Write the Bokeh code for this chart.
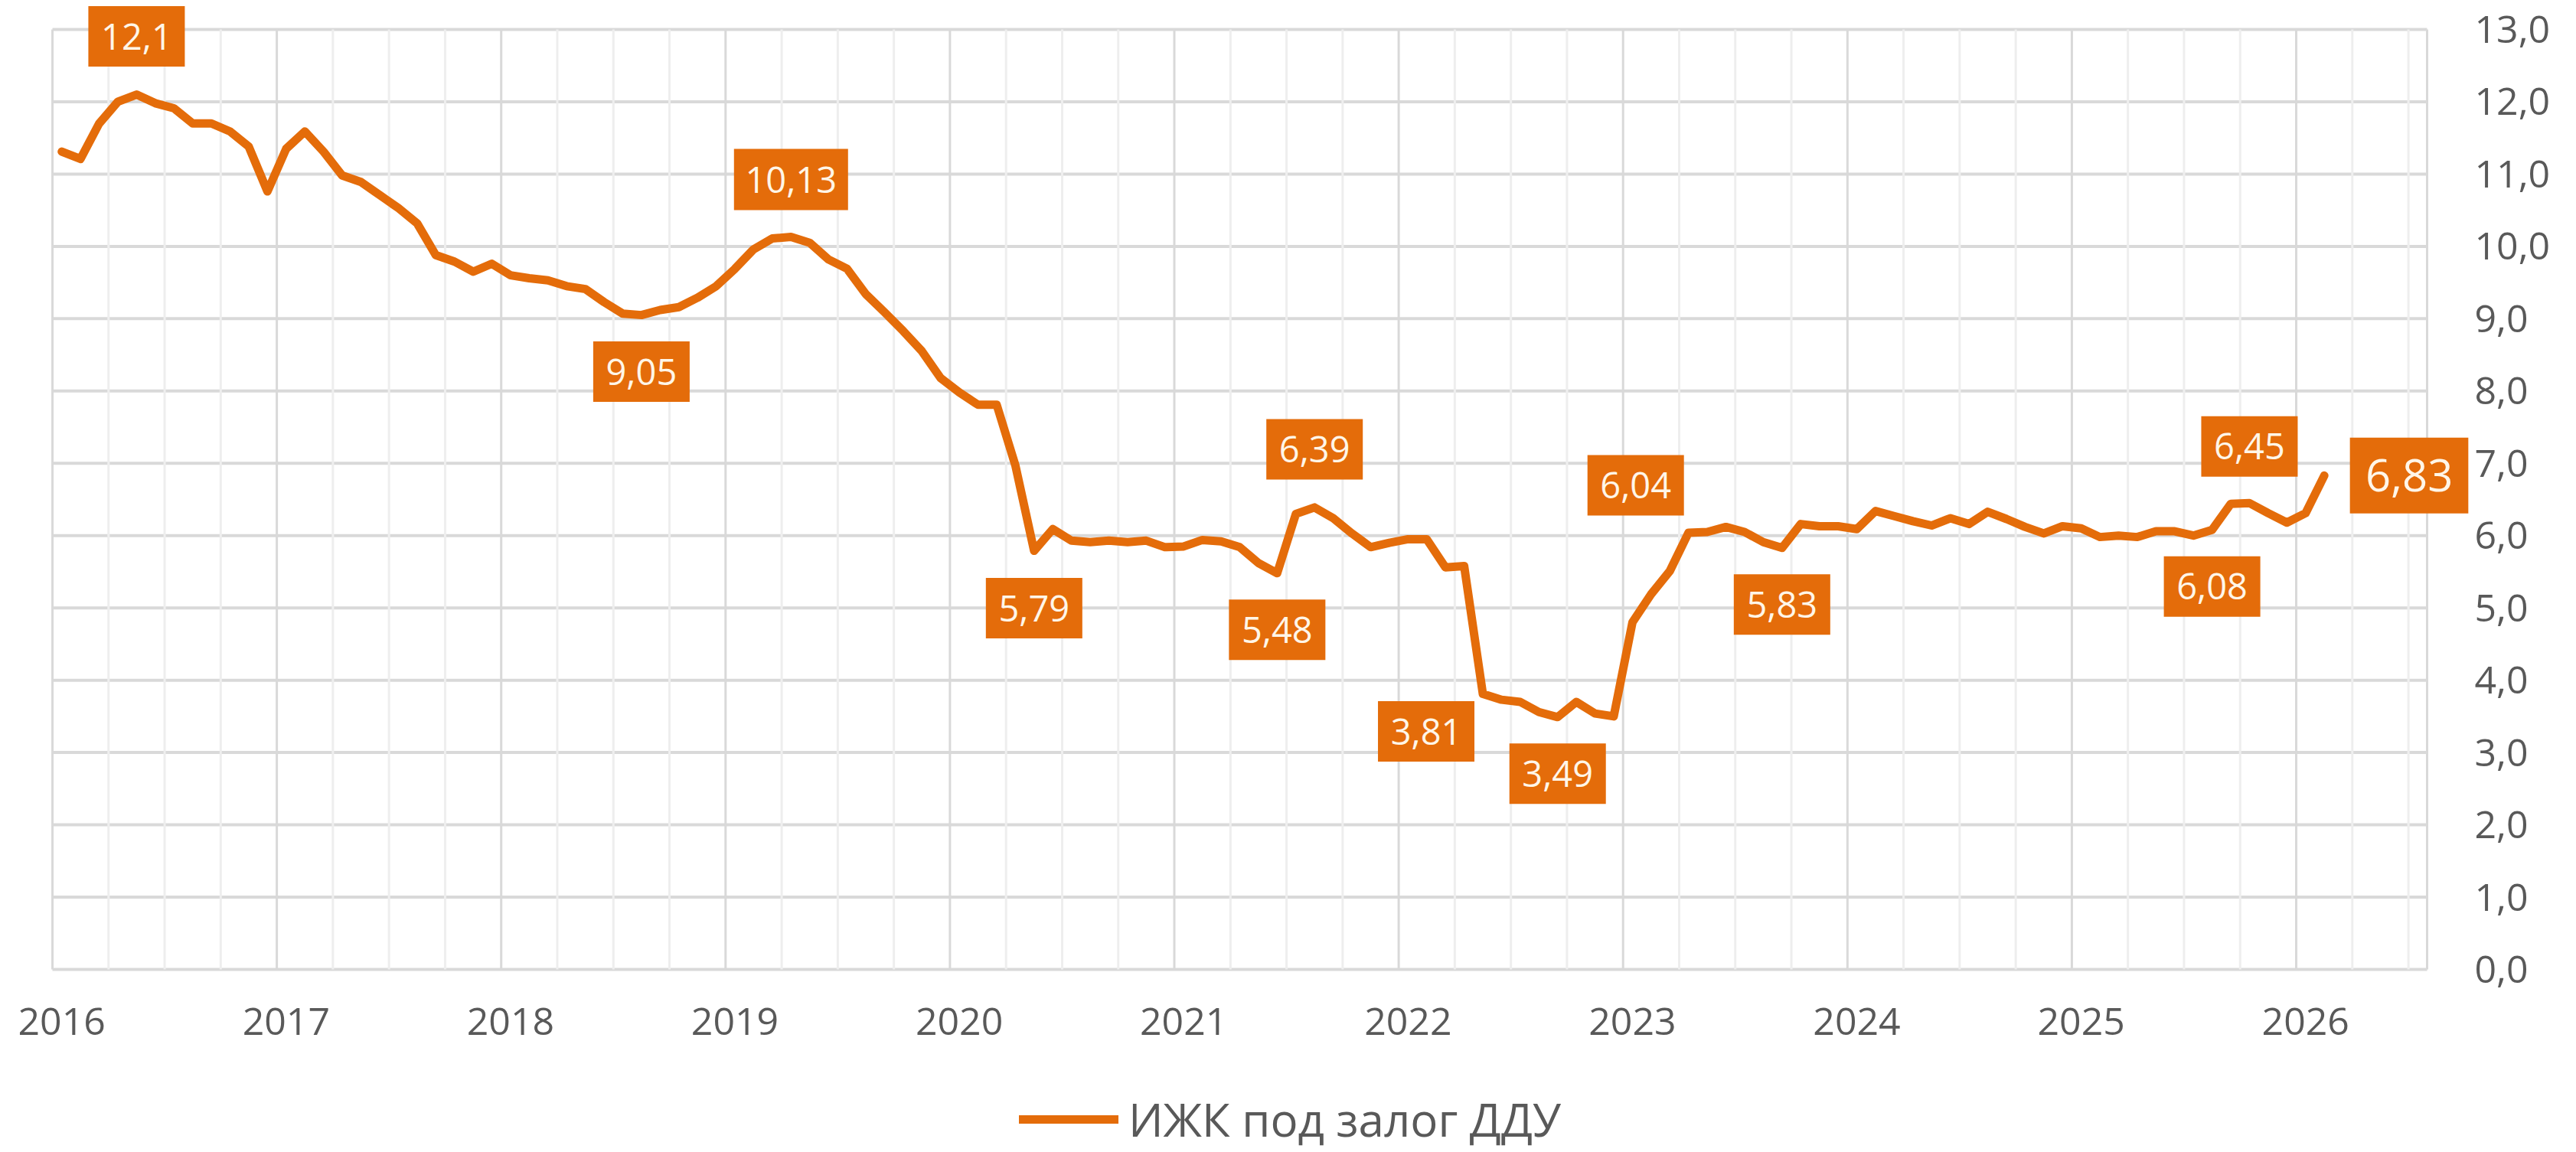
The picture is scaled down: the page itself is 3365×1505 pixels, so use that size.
from bokeh.plotting import figure
from bokeh.layouts import column
from bokeh.models import (Range1d, FixedTicker, ColumnDataSource, Legend,
                          LegendItem, LabelSet, BoxAnnotation)
from bokeh.core.properties import value
from bokeh.embed import file_html
from bokeh.resources import INLINE

# ---------------- data ----------------
start_year = 2016
n_categories = 127            # Jan 2016 .. Jul 2026 (axis extent)
values = [
    11.31, 11.21, 11.70, 12.00, 12.10, 11.98, 11.91, 11.70, 11.70, 11.59, 11.38, 10.76,   # 2016
    11.35, 11.59, 11.31, 10.98, 10.89, 10.71, 10.53, 10.32, 9.88, 9.79, 9.65, 9.76,       # 2017
    9.60, 9.56, 9.53, 9.45, 9.41, 9.23, 9.07, 9.05, 9.12, 9.16, 9.29, 9.45,               # 2018
    9.69, 9.96, 10.11, 10.13, 10.05, 9.82, 9.69, 9.34, 9.09, 8.83, 8.55, 8.18,            # 2019
    7.98, 7.81, 7.81, 6.97, 5.79, 6.09, 5.93, 5.91, 5.93, 5.91, 5.93, 5.84,               # 2020
    5.85, 5.94, 5.92, 5.84, 5.62, 5.48, 6.30, 6.39, 6.24, 6.03, 5.84, 5.90,               # 2021
    5.95, 5.95, 5.56, 5.58, 3.81, 3.73, 3.70, 3.56, 3.49, 3.70, 3.54, 3.50,               # 2022
    4.80, 5.19, 5.51, 6.04, 6.05, 6.12, 6.05, 5.91, 5.83, 6.16, 6.13, 6.13,               # 2023
    6.09, 6.34, 6.27, 6.20, 6.14, 6.24, 6.16, 6.33, 6.23, 6.12, 6.03, 6.13,               # 2024
    6.10, 5.98, 6.00, 5.98, 6.06, 6.06, 6.00, 6.08, 6.44, 6.45, 6.31, 6.18,               # 2025
    6.31, 6.83,                                                                           # 2026
]
year_labels = [str(start_year + k) for k in range(11)]
y_ticks = list(range(0, 14))
series_name = "ИЖК под залог ДДУ"

# months that carry a data label
label_idx = [4, 31, 39, 52, 65, 67, 76, 80, 87, 92, 115, 117, 121]

# ---------------- style ----------------
FONT = "Open Sans"
ORANGE = "#E46C0A"
GRID = "#d9d9d9"
MINOR = "#eeeeee"
TXT = "#595959"
W, H = 3365, 1395            # main chart
LEG_H = 110                  # legend strip below it
ML, MR, MT, MB = 60, 141, 0, 125
PA_LEFT, PA_RIGHT, PA_TOP, PA_BOTTOM = 68, 3170, 38, 1266   # plot-area in page px
PPM = (PA_RIGHT - PA_LEFT) / n_categories      # px per month
PPU = (PA_BOTTOM - PA_TOP) / 13.0              # px per unit
x_start = -0.5 - (PA_LEFT - ML) / PPM
x_end = n_categories - 0.5 + ((W - MR) - PA_RIGHT) / PPM
y_end = 13 + (PA_TOP - MT) / PPU
y_start = -((H - MB) - PA_BOTTOM) / PPU

# label offsets (px, up positive), box sizes (px), font sizes
lab_dx = [0, 0, 0, 0, 0, 0, -74, 0, -69, 0, 0, 0, 111]
lab_dy = [76, -74, 75, -75, -74, 76, -49, -74, 62, -74, -74, 74, 0]
lab_w = [126, 126, 149, 126, 126, 126, 126, 126, 126, 126, 126, 126, 155]
lab_h = [79, 79, 80, 79, 79, 79, 79, 79, 79, 79, 79, 79, 99]
lab_fs = ["47px"] * 12 + ["58px"]

x = list(range(len(values)))
src = ColumnDataSource(dict(x=x, y=values))

p = figure(width=W, height=H, output_backend="svg", toolbar_location=None,
           x_range=Range1d(x_start, x_end), y_range=Range1d(y_start, y_end),
           y_axis_location="right",
           min_border_left=ML, min_border_right=MR, min_border_top=MT, min_border_bottom=MB,
           background_fill_color="white", border_fill_color="white",
           outline_line_color=None)
p.xgrid.visible = False
p.ygrid.visible = False

# ---- plot-area grid (limited to the plot area, like the original) ----
xa, xb = -0.5, n_categories - 0.5
hy = y_ticks
p.segment(x0=[xa] * len(hy), y0=hy, x1=[xb] * len(hy), y1=hy,
          line_color=GRID, line_width=4)
quarter_lines = [3 * k - 0.5 for k in range(1, 43) if k % 4 != 0]
p.segment(x0=quarter_lines, y0=[0] * len(quarter_lines), x1=quarter_lines,
          y1=[13] * len(quarter_lines), line_color=MINOR, line_width=3)
year_lines = [12 * k - 0.5 for k in range(11)] + [xb]
p.segment(x0=year_lines, y0=[0] * len(year_lines), x1=year_lines,
          y1=[13] * len(year_lines), line_color=GRID, line_width=3)

# x axis
p.xaxis.ticker = FixedTicker(ticks=[12 * k for k in range(11)])
p.xaxis.major_label_overrides = {12 * k: year_labels[k] for k in range(11)}
p.xaxis.axis_line_color = None
p.xaxis.major_tick_line_color = None
p.xaxis.minor_tick_line_color = None
p.xaxis.major_label_standoff = 40
p.xaxis.major_label_text_font = FONT
p.xaxis.major_label_text_font_size = "50px"
p.xaxis.major_label_text_color = TXT

# y axis (right)
p.yaxis.ticker = FixedTicker(ticks=y_ticks)
p.yaxis.major_label_overrides = {t: f"{t},0" for t in y_ticks}
p.yaxis.axis_line_color = None
p.yaxis.major_tick_line_color = None
p.yaxis.minor_tick_line_color = None
p.yaxis.major_label_standoff = 2
p.yaxis.major_label_text_font = FONT
p.yaxis.major_label_text_font_size = "50px"
p.yaxis.major_label_text_color = TXT

line = p.line("x", "y", source=src, line_color=ORANGE, line_width=11,
              line_join="round", line_cap="round")

# data labels: boxes + text
bx, by, txt = [], [], []
for k, i in enumerate(label_idx):
    cx = x[i] + lab_dx[k] / PPM
    cy = values[i] + lab_dy[k] / PPU
    bx.append(cx)
    by.append(cy)
    txt.append(f"{values[i]:g}".replace(".", ","))
    hw = lab_w[k] / 2 / PPM
    hh = lab_h[k] / 2 / PPU
    p.add_layout(BoxAnnotation(left=cx - hw, right=cx + hw, bottom=cy - hh, top=cy + hh,
                               fill_color=ORANGE, fill_alpha=1.0, line_color=None))

lsrc = ColumnDataSource(dict(x=bx, y=by, t=txt, fs=lab_fs))
p.add_layout(LabelSet(x="x", y="y", text="t", source=lsrc, text_align="center",
                      text_baseline="middle", text_font=value(FONT), text_font_size="fs",
                      text_color="#FFF6E8"))

# ---- legend strip ----
lp = figure(width=W, height=LEG_H, output_backend="svg", toolbar_location=None,
            x_range=Range1d(0, 1), y_range=Range1d(0, 1),
            x_axis_type=None, y_axis_type=None,
            min_border_left=0, min_border_right=0, min_border_top=0, min_border_bottom=0,
            background_fill_color="white", border_fill_color="white",
            outline_line_color=None)
lp.xgrid.visible = False
lp.ygrid.visible = False
# key renderer for the legend (its points sit outside the visible range)
key = lp.line(x=[-2, -1], y=[-2, -2], line_color=ORANGE, line_width=11, line_cap="round")
legend = Legend(items=[LegendItem(label=series_name, renderers=[key])],
                location=(1271, 2), orientation="horizontal",
                glyph_width=130, glyph_height=40, label_standoff=13,
                padding=0, margin=0, spacing=0,
                border_line_color=None, background_fill_alpha=0,
                label_text_font=FONT, label_text_font_size="60px",
                label_text_color=TXT)
lp.add_layout(legend, "center")

open("out.html", "w").write(file_html(column(p, lp, spacing=0), INLINE))
